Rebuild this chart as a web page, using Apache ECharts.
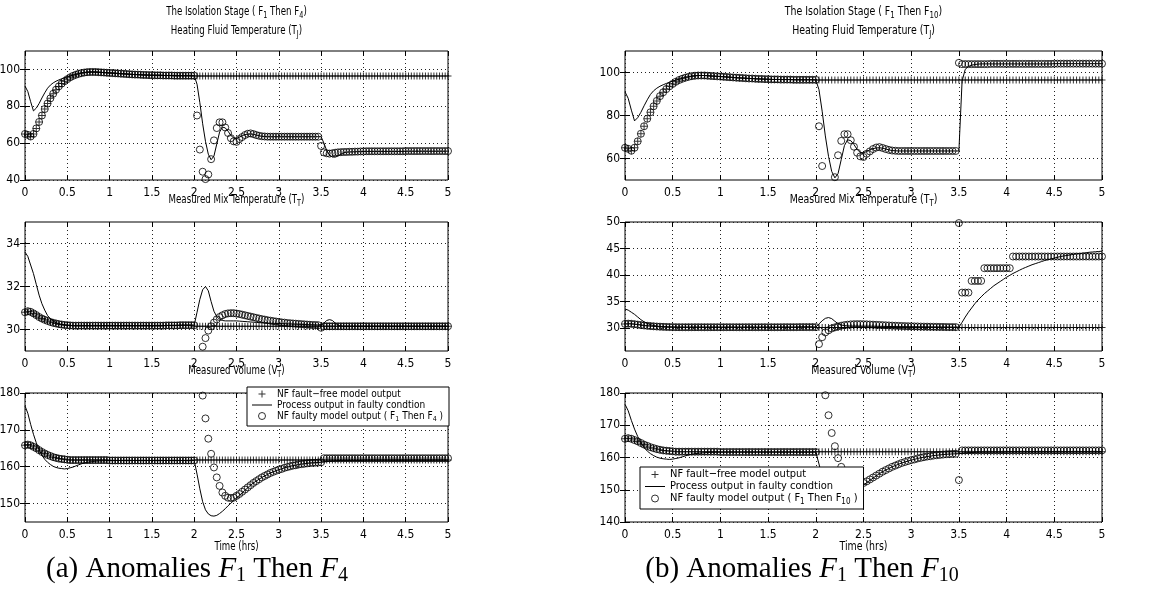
<!DOCTYPE html>
<html><head><meta charset="utf-8">
<script src="https://cdn.jsdelivr.net/npm/echarts@6/dist/echarts.min.js"></script>
<style>html,body{margin:0;padding:0;background:#fff}#c{width:1167px;height:599px}</style>
</head><body><div id="c"></div><script>
const FONT = "'Liberation Sans Narrow','Arial Narrow','DejaVu Sans Condensed',sans-serif";
const SERIF = "'Liberation Serif','DejaVu Serif',serif";

// sample times (minutes), one sample every 2 minutes from 0 to 5 h
const timeMin = [
  0, 2, 4, 6, 8, 10, 12, 14, 16, 18, 20, 22, 24, 26, 28,
  30, 32, 34, 36, 38, 40, 42, 44, 46, 48, 50, 52, 54, 56, 58,
  60, 62, 64, 66, 68, 70, 72, 74, 76, 78, 80, 82, 84, 86, 88,
  90, 92, 94, 96, 98, 100, 102, 104, 106, 108, 110, 112, 114, 116, 118,
  120, 122, 124, 126, 128, 130, 132, 134, 136, 138, 140, 142, 144, 146, 148,
  150, 152, 154, 156, 158, 160, 162, 164, 166, 168, 170, 172, 174, 176, 178,
  180, 182, 184, 186, 188, 190, 192, 194, 196, 198, 200, 202, 204, 206, 208,
  210, 212, 214, 216, 218, 220, 222, 224, 226, 228, 230, 232, 234, 236, 238,
  240, 242, 244, 246, 248, 250, 252, 254, 256, 258, 260, 262, 264, 266, 268,
  270, 272, 274, 276, 278, 280, 282, 284, 286, 288, 290, 292, 294, 296, 298,
  300
];

const NAME_FREE = 'NF fault\u2212free model output';
const NAME_PROC = 'Process output in faulty condtion';
const NAME_F4 = 'NF faulty model output ( F1 Then F4 )';
const NAME_F10 = 'NF faulty model output ( F1 Then F10 )';

const yTicksTJa = [40, 60, 80, 100];
const yTicksTTa = [30, 32, 34];
const yTicksVTa = [150, 160, 170, 180];
const yTicksTJb = [60, 80, 100];
const yTicksTTb = [30, 35, 40, 45, 50];
const yTicksVTb = [140, 150, 160, 170, 180];

// ---------- Heating fluid temperature T_J ----------
const tjStartup = [
  65.0, 64.5, 63.6, 65.0, 68.0, 71.5, 75.0, 78.5, 81.5, 84.3, 86.8, 89.0, 90.8, 92.3, 93.6,
  94.7, 95.7, 96.5, 97.1, 97.6, 98.0, 98.3, 98.5, 98.6, 98.6, 98.6, 98.5, 98.4, 98.3, 98.2,
  98.1, 98.0, 97.9, 97.8, 97.7, 97.6, 97.5, 97.4, 97.3, 97.2, 97.2, 97.1, 97.0, 97.0, 96.9,
  96.9, 96.8, 96.8, 96.8, 96.7, 96.7, 96.7, 96.7, 96.6, 96.6, 96.6, 96.6, 96.6, 96.6, 96.6
];
const tjFreeAfter = [
  96.5, 96.5, 96.5, 96.5, 96.5, 96.5, 96.5, 96.5, 96.5, 96.5, 96.5, 96.5, 96.5, 96.5, 96.5,
  96.5, 96.5, 96.5, 96.5, 96.5, 96.5, 96.5, 96.5, 96.5, 96.5, 96.5, 96.5, 96.5, 96.5, 96.5,
  96.5, 96.5, 96.5, 96.5, 96.5, 96.5, 96.5, 96.5, 96.5, 96.5, 96.5, 96.5, 96.5, 96.5, 96.5,
  96.5, 96.5, 96.5, 96.5, 96.5, 96.5, 96.5, 96.5, 96.5, 96.5, 96.5, 96.5, 96.5, 96.5, 96.5,
  96.5, 96.5, 96.5, 96.5, 96.5, 96.5, 96.5, 96.5, 96.5, 96.5, 96.5, 96.5, 96.5, 96.5, 96.5,
  96.5, 96.5, 96.5, 96.5, 96.5, 96.5, 96.5, 96.5, 96.5, 96.5, 96.5, 96.5, 96.5, 96.5, 96.5,
  96.5
];
const tjModelFault2 = [
  96.6, 75.0, 56.5, 44.5, 40.5, 43.0, 51.3, 61.5, 68.2, 71.3, 71.3, 68.5, 65.5, 62.7, 61.0,
  60.7, 62.2, 63.3, 64.4, 65.1, 65.3, 64.9, 64.4, 64.0, 63.7, 63.6, 63.5, 63.5, 63.5, 63.5,
  63.5, 63.5, 63.5, 63.5, 63.5, 63.5, 63.5, 63.5, 63.5, 63.5, 63.5, 63.5, 63.5, 63.5, 63.5
];
const tjModelF4After = [
  58.5, 55.0, 54.5, 54.3, 54.5, 54.8, 55.0, 55.1, 55.2, 55.2, 55.3, 55.3, 55.4, 55.4, 55.5,
  55.5, 55.6, 55.6, 55.6, 55.6, 55.6, 55.6, 55.6, 55.6, 55.6, 55.6, 55.6, 55.6, 55.6, 55.6,
  55.7, 55.7, 55.7, 55.7, 55.7, 55.7, 55.7, 55.7, 55.7, 55.7, 55.7, 55.7, 55.7, 55.7, 55.7,
  55.7
];
const tjModelF10After = [
  104.5, 103.9, 103.9, 103.9, 103.9, 103.9, 103.9, 103.9, 103.9, 103.9, 104.0, 104.0, 104.0, 104.0, 104.0,
  104.0, 104.0, 104.0, 104.0, 104.0, 104.0, 104.0, 104.0, 104.0, 104.0, 104.0, 104.0, 104.0, 104.0, 104.0,
  104.1, 104.1, 104.1, 104.1, 104.1, 104.1, 104.1, 104.1, 104.1, 104.1, 104.1, 104.1, 104.1, 104.1, 104.1,
  104.1
];
const tjProcStartup = [
  91.0, 88.0, 82.5, 77.5, 79.0, 81.5, 84.5, 87.3, 89.8, 91.5, 92.7, 93.6, 94.3, 94.9, 95.5,
  96.0, 96.5, 96.9, 97.3, 97.7, 98.0, 98.3, 98.5, 98.6, 98.6, 98.6, 98.5, 98.4, 98.3, 98.2,
  98.1, 98.0, 97.9, 97.8, 97.7, 97.6, 97.5, 97.4, 97.3, 97.2, 97.2, 97.1, 97.0, 97.0, 96.9,
  96.9, 96.8, 96.8, 96.8, 96.7, 96.7, 96.7, 96.7, 96.6, 96.6, 96.6, 96.6, 96.6, 96.6, 96.6
];
const tjProcFault2 = [
  96.6, 92.0, 82.0, 70.5, 61.0, 54.0, 51.0, 53.0, 59.5, 66.0, 68.7, 68.3, 66.5, 64.2, 62.8,
  62.7, 63.2, 64.0, 64.6, 64.9, 65.0, 64.8, 64.4, 64.0, 63.7, 63.6, 63.5, 63.5, 63.5, 63.5,
  63.5, 63.5, 63.5, 63.5, 63.5, 63.5, 63.5, 63.5, 63.5, 63.5, 63.5, 63.5, 63.5, 63.5, 63.5
];
const tjProcF4After = [
  63.5, 60.0, 56.0, 53.5, 52.5, 52.4, 53.0, 54.0, 54.8, 55.1, 55.2, 55.3, 55.3, 55.4, 55.4,
  55.5, 55.5, 55.5, 55.5, 55.5, 55.5, 55.5, 55.5, 55.5, 55.5, 55.5, 55.5, 55.5, 55.5, 55.5,
  55.6, 55.6, 55.6, 55.6, 55.6, 55.6, 55.6, 55.6, 55.6, 55.6, 55.6, 55.6, 55.6, 55.6, 55.6,
  55.7
];
const tjProcF10After = [
  63.5, 96.0, 101.5, 102.8, 103.4, 103.7, 103.9, 104.0, 104.0, 104.0, 104.0, 104.0, 104.0, 104.0, 104.0,
  104.0, 104.0, 104.0, 104.0, 104.0, 104.0, 104.0, 104.0, 104.0, 104.0, 104.0, 104.0, 104.0, 104.0, 104.0,
  104.1, 104.1, 104.1, 104.1, 104.1, 104.1, 104.1, 104.1, 104.1, 104.1, 104.1, 104.1, 104.1, 104.1, 104.1,
  104.1
];

// ---------- Measured mix temperature T_T ----------
const ttStartup = [
  30.80, 30.85, 30.82, 30.75, 30.67, 30.58, 30.51, 30.45, 30.40, 30.35, 30.31, 30.28, 30.25, 30.23, 30.21,
  30.20, 30.19, 30.18, 30.18, 30.18, 30.18, 30.18, 30.18, 30.18, 30.18, 30.18, 30.18, 30.18, 30.18, 30.18,
  30.18, 30.18, 30.18, 30.18, 30.18, 30.18, 30.18, 30.18, 30.18, 30.18, 30.18, 30.18, 30.18, 30.18, 30.18,
  30.18, 30.18, 30.18, 30.18, 30.18, 30.19, 30.19, 30.19, 30.19, 30.19, 30.20, 30.20, 30.20, 30.20, 30.20
];
const ttFreeAfter = [
  30.15, 30.15, 30.15, 30.15, 30.15, 30.15, 30.15, 30.15, 30.15, 30.15, 30.15, 30.15, 30.15, 30.15, 30.15,
  30.15, 30.15, 30.15, 30.15, 30.15, 30.15, 30.15, 30.15, 30.15, 30.15, 30.15, 30.15, 30.15, 30.15, 30.15,
  30.15, 30.15, 30.15, 30.15, 30.15, 30.15, 30.15, 30.15, 30.15, 30.15, 30.15, 30.15, 30.15, 30.15, 30.15,
  30.15, 30.15, 30.15, 30.15, 30.15, 30.15, 30.15, 30.15, 30.15, 30.15, 30.15, 30.15, 30.15, 30.15, 30.15,
  30.15, 30.15, 30.15, 30.15, 30.15, 30.15, 30.15, 30.15, 30.15, 30.15, 30.15, 30.15, 30.15, 30.15, 30.15,
  30.15, 30.15, 30.15, 30.15, 30.15, 30.15, 30.15, 30.15, 30.15, 30.15, 30.15, 30.15, 30.15, 30.15, 30.15,
  30.15
];
const ttModelFault2 = [
  30.20, 27.0, 28.3, 29.2, 29.6, 29.95, 30.15, 30.32, 30.47, 30.58, 30.66, 30.72, 30.75, 30.76, 30.76,
  30.74, 30.72, 30.69, 30.66, 30.63, 30.60, 30.57, 30.54, 30.51, 30.48, 30.46, 30.43, 30.41, 30.39, 30.37,
  30.35, 30.33, 30.32, 30.30, 30.29, 30.28, 30.27, 30.26, 30.25, 30.24, 30.23, 30.22, 30.21, 30.21, 30.20
];
const ttModelF4After = [
  30.08, 30.15, 30.15, 30.15, 30.15, 30.15, 30.15, 30.15, 30.15, 30.15, 30.15, 30.15, 30.15, 30.15, 30.15,
  30.15, 30.15, 30.15, 30.15, 30.15, 30.15, 30.15, 30.15, 30.15, 30.15, 30.15, 30.15, 30.15, 30.15, 30.15,
  30.15, 30.15, 30.15, 30.15, 30.15, 30.15, 30.15, 30.15, 30.15, 30.15, 30.15, 30.15, 30.15, 30.15, 30.15,
  30.15
];
const ttModelF10After = [
  49.8, 36.7, 36.7, 36.7, 38.9, 38.9, 38.9, 38.9, 41.3, 41.3, 41.3, 41.3, 41.3, 41.3, 41.3,
  41.3, 41.3, 43.5, 43.5, 43.5, 43.5, 43.5, 43.5, 43.5, 43.5, 43.5, 43.5, 43.5, 43.5, 43.5,
  43.5, 43.5, 43.5, 43.5, 43.5, 43.5, 43.5, 43.5, 43.5, 43.5, 43.5, 43.5, 43.5, 43.5, 43.5,
  43.5
];
const ttProcStartup = [
  33.6, 33.4, 33.0, 32.6, 32.1, 31.6, 31.2, 30.9, 30.65, 30.5, 30.4, 30.32, 30.27, 30.23, 30.21,
  30.20, 30.19, 30.18, 30.18, 30.18, 30.18, 30.18, 30.18, 30.18, 30.18, 30.18, 30.18, 30.18, 30.18, 30.18,
  30.18, 30.18, 30.18, 30.18, 30.18, 30.18, 30.18, 30.18, 30.18, 30.18, 30.18, 30.18, 30.18, 30.18, 30.18,
  30.18, 30.18, 30.18, 30.18, 30.18, 30.19, 30.19, 30.19, 30.19, 30.19, 30.20, 30.20, 30.20, 30.20, 30.20
];
const ttProcFault2 = [
  30.20, 30.8, 31.4, 31.85, 32.0, 31.8, 31.3, 30.85, 30.6, 30.48, 30.42, 30.40, 30.40, 30.40, 30.40,
  30.40, 30.39, 30.38, 30.37, 30.36, 30.35, 30.34, 30.33, 30.32, 30.31, 30.30, 30.30, 30.29, 30.29, 30.28,
  30.28, 30.27, 30.27, 30.26, 30.26, 30.25, 30.25, 30.24, 30.24, 30.23, 30.23, 30.22, 30.22, 30.21, 30.21
];
const ttProcF4After = [
  30.20, 30.30, 30.42, 30.46, 30.42, 30.30, 30.20, 30.16, 30.15, 30.15, 30.15, 30.15, 30.15, 30.15, 30.15,
  30.15, 30.15, 30.15, 30.15, 30.15, 30.15, 30.15, 30.15, 30.15, 30.15, 30.15, 30.15, 30.15, 30.15, 30.15,
  30.15, 30.15, 30.15, 30.15, 30.15, 30.15, 30.15, 30.15, 30.15, 30.15, 30.15, 30.15, 30.15, 30.15, 30.15,
  30.15
];
const ttProcF10After = [
  30.20, 31.1, 32.1, 33.0, 33.8, 34.6, 35.3, 35.9, 36.5, 37.0, 37.5, 38.0, 38.4, 38.8, 39.2,
  39.6, 39.95, 40.3, 40.6, 40.9, 41.2, 41.45, 41.7, 41.95, 42.15, 42.35, 42.55, 42.75, 42.9, 43.05,
  43.2, 43.35, 43.5, 43.6, 43.7, 43.8, 43.9, 44.0, 44.05, 44.15, 44.2, 44.3, 44.35, 44.4, 44.45,
  44.5
];

// ---------- Measured volume V_T ----------
const vtStartup = [
  165.8, 166.0, 165.8, 165.4, 165.0, 164.5, 164.0, 163.6, 163.2, 162.9, 162.6, 162.4, 162.2, 162.1, 162.0,
  161.9, 161.8, 161.8, 161.8, 161.8, 161.8, 161.8, 161.8, 161.8, 161.8, 161.8, 161.8, 161.8, 161.8, 161.8,
  161.7, 161.7, 161.7, 161.7, 161.7, 161.7, 161.7, 161.7, 161.7, 161.7, 161.7, 161.7, 161.7, 161.7, 161.7,
  161.7, 161.7, 161.7, 161.7, 161.7, 161.7, 161.7, 161.7, 161.7, 161.7, 161.7, 161.7, 161.7, 161.7, 161.7
];
const vtFreeAfter = [
  161.8, 161.8, 161.8, 161.8, 161.8, 161.8, 161.8, 161.8, 161.8, 161.8, 161.8, 161.8, 161.8, 161.8, 161.8,
  161.8, 161.8, 161.8, 161.8, 161.8, 161.8, 161.8, 161.8, 161.8, 161.8, 161.8, 161.8, 161.8, 161.8, 161.8,
  161.8, 161.8, 161.8, 161.8, 161.8, 161.8, 161.8, 161.8, 161.8, 161.8, 161.8, 161.8, 161.8, 161.8, 161.8,
  161.8, 161.8, 161.8, 161.8, 161.8, 161.8, 161.8, 161.8, 161.8, 161.8, 161.8, 161.8, 161.8, 161.8, 161.8,
  161.8, 161.8, 161.8, 161.8, 161.8, 161.8, 161.8, 161.8, 161.8, 161.8, 161.8, 161.8, 161.8, 161.8, 161.8,
  161.8, 161.8, 161.8, 161.8, 161.8, 161.8, 161.8, 161.8, 161.8, 161.8, 161.8, 161.8, 161.8, 161.8, 161.8,
  161.8
];
const vtModelFault2 = [
  161.7, null, null, 179.3, 173.1, 167.6, 163.5, 159.8, 157.1, 154.8, 153.0, 152.1, 151.6, 151.5, 151.6,
  152.1, 152.6, 153.2, 153.8, 154.4, 155.0, 155.6, 156.1, 156.6, 157.1, 157.5, 157.9, 158.3, 158.6, 158.9,
  159.2, 159.4, 159.7, 159.9, 160.1, 160.3, 160.4, 160.6, 160.7, 160.8, 160.9, 161.0, 161.05, 161.1, 161.15
];
const vtModelF4After = [
  161.2, 162.3, 162.3, 162.3, 162.3, 162.3, 162.3, 162.3, 162.3, 162.3, 162.3, 162.3, 162.3, 162.3, 162.3,
  162.3, 162.3, 162.3, 162.3, 162.3, 162.3, 162.3, 162.3, 162.3, 162.3, 162.3, 162.3, 162.3, 162.3, 162.3,
  162.3, 162.3, 162.3, 162.3, 162.3, 162.3, 162.3, 162.3, 162.3, 162.3, 162.3, 162.3, 162.3, 162.3, 162.3,
  162.3
];
const vtModelF10After = [
  153.0, 162.2, 162.2, 162.2, 162.2, 162.2, 162.2, 162.2, 162.2, 162.2, 162.2, 162.2, 162.2, 162.2, 162.2,
  162.2, 162.2, 162.2, 162.2, 162.2, 162.2, 162.2, 162.2, 162.2, 162.2, 162.2, 162.2, 162.2, 162.2, 162.2,
  162.2, 162.2, 162.2, 162.2, 162.2, 162.2, 162.2, 162.2, 162.2, 162.2, 162.2, 162.2, 162.2, 162.2, 162.2,
  162.2
];
const vtProcStartup = [
  176.5, 174.5, 171.5, 168.8, 166.5, 164.6, 163.1, 162.0, 161.2, 160.6, 160.1, 159.8, 159.6, 159.5, 159.4,
  159.5, 159.7, 159.9, 160.2, 160.5, 160.8, 161.0, 161.2, 161.3, 161.4, 161.5, 161.55, 161.6, 161.6, 161.65,
  161.65, 161.7, 161.7, 161.7, 161.7, 161.7, 161.7, 161.7, 161.7, 161.7, 161.7, 161.7, 161.7, 161.7, 161.7,
  161.7, 161.7, 161.7, 161.7, 161.7, 161.7, 161.7, 161.7, 161.7, 161.7, 161.7, 161.7, 161.7, 161.7, 161.7
];
const vtProcFault2 = [
  161.7, 158.0, 154.0, 150.5, 148.3, 147.2, 146.7, 146.6, 146.8, 147.3, 147.9, 148.6, 149.4, 150.1, 150.8,
  151.5, 152.2, 152.9, 153.6, 154.3, 155.0, 155.6, 156.1, 156.6, 157.1, 157.5, 157.9, 158.3, 158.6, 158.9,
  159.2, 159.4, 159.7, 159.9, 160.1, 160.3, 160.4, 160.6, 160.7, 160.8, 160.9, 161.0, 161.05, 161.1, 161.15
];
const vtProcAfter = [
  161.2, 161.3, 161.4, 161.5, 161.55, 161.6, 161.65, 161.7, 161.7, 161.7, 161.7, 161.7, 161.7, 161.7, 161.7,
  161.8, 161.8, 161.8, 161.8, 161.8, 161.8, 161.8, 161.8, 161.8, 161.8, 161.8, 161.8, 161.8, 161.8, 161.8,
  161.8, 161.8, 161.8, 161.8, 161.8, 161.8, 161.8, 161.8, 161.8, 161.8, 161.8, 161.8, 161.8, 161.8, 161.8,
  161.8
];

// ---------- assemble full series ----------
const tjFaultFree = tjStartup.concat(tjFreeAfter);
const tjModelF4 = tjStartup.concat(tjModelFault2, tjModelF4After);
const tjModelF10 = tjStartup.concat(tjModelFault2, tjModelF10After);
const tjProcessF4 = tjProcStartup.concat(tjProcFault2, tjProcF4After);
const tjProcessF10 = tjProcStartup.concat(tjProcFault2, tjProcF10After);
const ttFaultFree = ttStartup.concat(ttFreeAfter);
const ttModelF4 = ttStartup.concat(ttModelFault2, ttModelF4After);
const ttModelF10 = ttStartup.concat(ttModelFault2, ttModelF10After);
const ttProcessF4 = ttProcStartup.concat(ttProcFault2, ttProcF4After);
const ttProcessF10 = ttProcStartup.concat(ttProcFault2, ttProcF10After);
const vtFaultFree = vtStartup.concat(vtFreeAfter);
const vtModelF4 = vtStartup.concat(vtModelFault2, vtModelF4After);
const vtModelF10 = vtStartup.concat(vtModelFault2, vtModelF10After);
const vtProcessF4 = vtProcStartup.concat(vtProcFault2, vtProcAfter);
const vtProcessF10 = vtProcStartup.concat(vtProcFault2, vtProcAfter);

const panels = [
  { free: tjFaultFree, proc: tjProcessF4,  model: tjModelF4,  modelName: NAME_F4,  yMin: 40,   yMax: 110, ticks: yTicksTJa },
  { free: ttFaultFree, proc: ttProcessF4,  model: ttModelF4,  modelName: NAME_F4,  yMin: 29,   yMax: 35,  ticks: yTicksTTa },
  { free: vtFaultFree, proc: vtProcessF4,  model: vtModelF4,  modelName: NAME_F4,  yMin: 145,  yMax: 180, ticks: yTicksVTa },
  { free: tjFaultFree, proc: tjProcessF10, model: tjModelF10, modelName: NAME_F10, yMin: 50,   yMax: 110, ticks: yTicksTJb },
  { free: ttFaultFree, proc: ttProcessF10, model: ttModelF10, modelName: NAME_F10, yMin: 25.7, yMax: 50,  ticks: yTicksTTb },
  { free: vtFaultFree, proc: vtProcessF10, model: vtModelF10, modelName: NAME_F10, yMin: 140,  yMax: 180, ticks: yTicksVTb }
];

// ---------- layout ----------
const colLeft = [25, 625], colWidth = [423, 477];
const rowTop = [51, 222, 393], rowHeight = 129;
const PLUS = 'path://M3,0h1v3h3v1h-3v3h-1v-3h-3v-1h3z';
const LINE_ICON = 'path://M0,0h20v1h-20z';
const GRIDLINE = { color: '#222', width: 1, type: [1, 3] };
const TICK = { inside: true, length: 5, lineStyle: { color: '#000', width: 1 } };

function pairs(vals) {
  const out = [];
  vals.forEach((v, i) => { if (v !== null) out.push([timeMin[i] / 60, v]); });
  return out;
}

const grid = [], xAxis = [], yAxis = [], series = [];
panels.forEach((p, i) => {
  const col = i < 3 ? 0 : 1, row = i % 3;
  grid.push({ left: colLeft[col], top: rowTop[row], width: colWidth[col], height: rowHeight,
    show: true, borderColor: '#000', borderWidth: 1, backgroundColor: 'transparent', outerBoundsMode: 'none' });
  xAxis.push({ gridIndex: i, type: 'value', min: 0, max: 5, interval: 0.5, position: 'bottom',
    axisLine: { show: false }, axisTick: TICK,
    axisLabel: { color: '#000', fontSize: 12, fontFamily: FONT, margin: 7 },
    splitLine: { show: true, lineStyle: GRIDLINE } });
  xAxis.push({ gridIndex: i, type: 'value', min: 0, max: 5, interval: 0.5, position: 'top',
    axisLine: { show: false }, axisTick: TICK, axisLabel: { show: false }, splitLine: { show: false } });
  yAxis.push({ gridIndex: i, type: 'value', min: p.yMin, max: p.yMax, position: 'left',
    axisLine: { show: false }, axisTick: Object.assign({ customValues: p.ticks }, TICK),
    axisLabel: { customValues: p.ticks, color: '#000', fontSize: 12, fontFamily: FONT, margin: 5 },
    splitLine: { show: true, lineStyle: GRIDLINE } });
  yAxis.push({ gridIndex: i, type: 'value', min: p.yMin, max: p.yMax, position: 'right',
    axisLine: { show: false }, axisTick: Object.assign({ customValues: p.ticks }, TICK),
    axisLabel: { show: false }, splitLine: { show: false } });
  const ax = { xAxisIndex: 2 * i, yAxisIndex: 2 * i };
  series.push(Object.assign({ type: 'scatter', name: NAME_FREE, data: pairs(p.free), symbol: PLUS, symbolSize: 7,
    itemStyle: { color: '#000' }, clip: true, silent: true }, ax));
  series.push(Object.assign({ type: 'line', name: NAME_PROC, data: pairs(p.proc), showSymbol: false, symbol: 'none',
    lineStyle: { color: '#000', width: 1 }, itemStyle: { color: '#000' }, clip: true, silent: true }, ax));
  series.push(Object.assign({ type: 'scatter', name: p.modelName, data: pairs(p.model), symbol: 'circle', symbolSize: 7,
    itemStyle: { color: 'rgba(0,0,0,0)', borderColor: '#000', borderWidth: 1 }, clip: true, silent: true }, ax));
});

function legendFormatter(name) {
  if (name === NAME_F4) return '{t|NF faulty model output ( F}{s|1}{t| Then F}{s|4}{t| )}';
  if (name === NAME_F10) return '{t|NF faulty model output ( F}{s|1}{t| Then F}{s|10}{t| )}';
  return '{t|' + name + '}';
}
function legendCfg(pos, modelName, fontSize, lineH) {
  return Object.assign({
    orient: 'vertical', padding: [2, 6, 3, 5], itemGap: 1, itemWidth: 20, itemHeight: 7,
    backgroundColor: '#fff', borderColor: '#000', borderWidth: 1, borderRadius: 0, selectedMode: false,
    formatter: legendFormatter,
    textStyle: { rich: {
      t: { fontSize: fontSize, fontFamily: FONT, color: '#000', lineHeight: lineH },
      s: { fontSize: fontSize - 3, fontFamily: FONT, color: '#000', lineHeight: fontSize - 3, verticalAlign: 'bottom' }
    } },
    data: [
      { name: NAME_FREE, icon: PLUS, itemStyle: { color: '#000' } },
      { name: NAME_PROC, icon: LINE_ICON, itemStyle: { color: '#000' } },
      { name: modelName, icon: 'circle', itemStyle: { color: 'rgba(0,0,0,0)', borderColor: '#000', borderWidth: 1 } }
    ]
  }, pos);
}

function label(x, y, text, size, sx) {
  return { type: 'text', x: x, y: y, z: 10, scaleX: sx, style: {
    text: text, align: 'center', verticalAlign: 'middle', textAlign: 'center', textVerticalAlign: 'middle',
    fill: '#000', font: size + 'px ' + FONT,
    rich: {
      n: { fontSize: size, fontFamily: FONT, fill: '#000', lineHeight: size + 5 },
      s: { fontSize: size - 3, fontFamily: FONT, fill: '#000', lineHeight: size - 3, verticalAlign: 'bottom' }
    } } };
}
function caption(x, y, text) {
  return { type: 'text', x: x, y: y, z: 10, style: {
    text: text, align: 'center', verticalAlign: 'middle', textAlign: 'center', textVerticalAlign: 'middle',
    fill: '#000', font: '29px ' + SERIF,
    rich: {
      r: { fontSize: 29, fontFamily: SERIF, fill: '#000', lineHeight: 34 },
      i: { fontSize: 29, fontFamily: SERIF, fontStyle: 'italic', fill: '#000', lineHeight: 34 },
      s: { fontSize: 20, fontFamily: SERIF, fill: '#000', lineHeight: 20, verticalAlign: 'bottom' }
    } } };
}
const cA = colLeft[0] + colWidth[0] / 2, cB = colLeft[1] + colWidth[1] / 2;
const SXA = 0.8, SXB = 0.87;
const graphic = [
  label(cA, 12, '{n|The Isolation Stage ( F}{s|1}{n| Then F}{s|4}{n|)}', 12, SXA),
  label(cA, 31, '{n|Heating Fluid Temperature (T}{s|J}{n|)}', 12, SXA),
  label(cB, 12, '{n|The Isolation Stage ( F}{s|1}{n| Then F}{s|10}{n|)}', 12, SXB),
  label(cB, 31, '{n|Heating Fluid Temperature (T}{s|J}{n|)}', 12, SXB),
  label(cA, 200, '{n|Measured Mix Temperature (T}{s|T}{n|)}', 12, SXA),
  label(cB, 200, '{n|Measured Mix Temperature (T}{s|T}{n|)}', 12, SXB),
  label(cA, 371, '{n|Measured Volume (V}{s|T}{n|)}', 12, SXA),
  label(cB, 371, '{n|Measured Volume (V}{s|T}{n|)}', 12, SXB),
  label(cA, 547, '{n|Time (hrs)}', 12, SXA),
  label(cB, 547, '{n|Time (hrs)}', 12, SXB),
  caption(197, 569, '{r|(a) Anomalies }{i|F}{s|1}{r| Then }{i|F}{s|4}'),
  caption(802, 569, '{r|(b) Anomalies }{i|F}{s|1}{r| Then }{i|F}{s|10}')
];

const chart = echarts.init(document.getElementById('c'), null, { renderer: 'canvas' });
chart.setOption({
  animation: false,
  backgroundColor: '#fff',
  grid: grid, xAxis: xAxis, yAxis: yAxis, series: series,
  legend: [
    legendCfg({ right: 1167 - 449, top: 387 }, NAME_F4, 10, 14),
    legendCfg({ left: 640, top: 467 }, NAME_F10, 11, 15)
  ],
  graphic: graphic
});
</script></body></html>
